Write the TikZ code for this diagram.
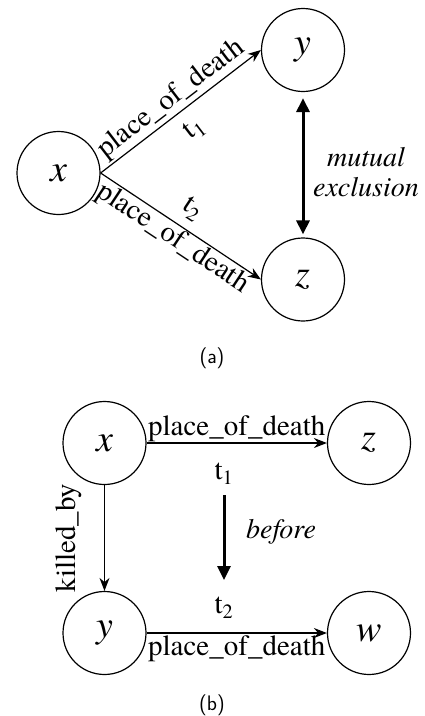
\documentclass[tikz,border=0pt]{standalone}
\usepackage{fontspec}
\newfontfamily\tnr{texgyretermes}[Extension=.otf, UprightFont=*-regular, ItalicFont=*-italic, BoldFont=*-bold, BoldItalicFont=*-bolditalic]
\usetikzlibrary{arrows.meta}
\begin{document}
\begin{tikzpicture}[x=1pt,y=-1pt,
  ent/.style={circle, draw, line width=1.2pt, minimum size=83pt, inner sep=0pt, font=\tnr\fontsize{38}{38}\selectfont\itshape},
  rel/.style={-{Stealth[length=13pt,width=10pt]}, line width=1.2pt},
  boldarr/.style={line width=3pt},
  lab/.style={font=\tnr\fontsize{29}{29}\selectfont, inner sep=1pt},
  ital/.style={font=\tnr\fontsize{28}{30}\selectfont\itshape, align=center, inner sep=0pt},
  captext/.style={font=\sffamily\fontsize{21}{21}\selectfont}]
\useasboundingbox (0,0) rectangle (424,716);
% (a)
\node[ent] (ax) at (58.5,173) {x};
\node[ent] (ay) at (303,50) {y};
\node[ent] (az) at (303,279.5) {z};
\draw[rel] (ax.east) -- node[lab, sloped, above=1pt]{place\_of\_death} node[lab, sloped, below=10pt]{t\textsubscript{1}} (ay.west);
\draw[rel] (ax.east) -- node[lab, sloped, below]{place\_of\_death} node[lab, sloped, above=8pt]{t\textsubscript{2}} (az.west);
\draw[boldarr, {Triangle[length=14pt,width=13pt]}-{Triangle[length=14pt,width=13pt]}, shorten <=6pt, shorten >=3pt] (ay.south) -- (az.north);
\node[ital] (me) at (366,172) {mutual\\exclusion};
\node[captext] (capa) at (212,358) {(a)};
% (b)
\node[ent] (bx) at (104.5,443) {x};
\node[ent] (bz) at (369,443) {z};
\node[ent] (by) at (104.5,633) {y};
\node[ent] (bw) at (369,633) {w};
\draw[rel] (bx) -- node[lab, above=0pt]{place\_of\_death} (bz);
\draw[rel] (by) -- node[lab, below=1pt]{place\_of\_death} (bw);
\draw[rel] (bx) -- (by);
\node[lab, rotate=90] (kb) at (68.5,538) {killed\_by};
\node[lab] (t1) at (224,474) {t\textsubscript{1}};
\node[lab] (t2) at (224,608) {t\textsubscript{2}};
\coordinate (bs) at (224,495);
\coordinate (be) at (224,580);
\draw[boldarr, -{Triangle[length=14pt,width=13pt]}] (bs) -- (be);
\node[ital] (bf) at (281,532) {before};
\node[captext] (capb) at (212,705) {(b)};
\end{tikzpicture}
\end{document}
